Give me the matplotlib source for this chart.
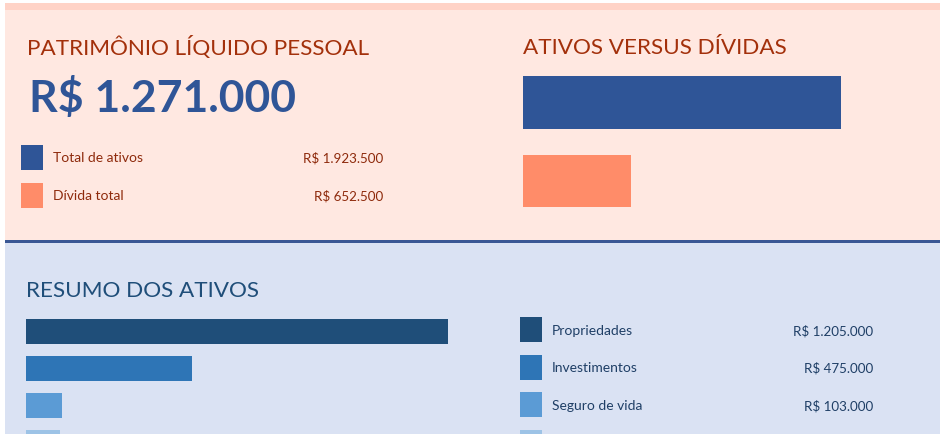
import matplotlib
matplotlib.use("Agg")
import matplotlib.pyplot as plt
from matplotlib.patches import Rectangle

# ---- data ----
net_worth_label = "R$ 1.271.000"
summary_labels = ["Total de ativos", "Dívida total"]
summary_values = [1923500, 652500]
summary_value_text = ["R$ 1.923.500", "R$ 652.500"]

asset_labels = ["Propriedades", "Investimentos", "Seguro de vida", "Outros"]
asset_values = [1205000, 475000, 103000, 97000]
asset_value_text = ["R$ 1.205.000", "R$ 475.000", "R$ 103.000", "R$ 97.000"]

# ---- style ----
W, H = 946, 434
BLUE = "#2F5597"
ORANGE = "#FF8C69"
ASSET_COLORS = ["#1F4E79", "#2E75B6", "#5B9BD5", "#9DC3E6"]
TOP_BG = "#FFE8E1"
TOP_STRIPE = "#FFD3C7"
BOT_BG = "#DAE2F3"
LINE = "#3A5794"
RED_TXT = "#A3300B"
BODY_RED = "#8E2A0C"
NAVY_TXT = "#1F4E79"
BODY_NAVY = "#1F3F66"

TITLE_FONT = ["Lato", "DejaVu Sans"]
BODY_FONT = ["Lato", "DejaVu Sans"]

fig = plt.figure(figsize=(W / 100, H / 100), dpi=100)
fig.patch.set_facecolor("white")

# overlay axes in pixel coordinates (layout only)
bg = fig.add_axes([0, 0, 1, 1])
bg.set_xlim(0, W)
bg.set_ylim(H, 0)
bg.axis("off")

bg.add_patch(Rectangle((5, 3), 935, 7, color=TOP_STRIPE, lw=0))
bg.add_patch(Rectangle((5, 10), 935, 230, color=TOP_BG, lw=0))
bg.add_patch(Rectangle((5, 240), 935, 3, color=LINE, lw=0))
bg.add_patch(Rectangle((5, 243), 935, 191, color=BOT_BG, lw=0))

# titles
bg.text(27, 48, "PATRIMÔNIO LÍQUIDO PESSOAL", color=RED_TXT, fontsize=16.2,
        family=TITLE_FONT, va="center", ha="left")
bg.text(523, 48, "ATIVOS VERSUS DÍVIDAS", color=RED_TXT, fontsize=16.2,
        family=TITLE_FONT, va="center", ha="left")
bg.text(26, 291, "RESUMO DOS ATIVOS", color=NAVY_TXT, fontsize=16.2,
        family=TITLE_FONT, va="center", ha="left")

# big number
bg.text(29, 98, net_worth_label, color=BLUE, fontsize=32, fontweight="bold",
        family=BODY_FONT, va="center", ha="left")

# top legend
top_colors = [BLUE, ORANGE]
for i, (lab, vt) in enumerate(zip(summary_labels, summary_value_text)):
    yc = 158.5 + 38 * i
    bg.add_patch(Rectangle((21, yc - 13.5), 22, 25, color=top_colors[i], lw=0))
    bg.text(53, yc, lab, color=BODY_RED, fontsize=10, family=BODY_FONT,
            va="center", ha="left")
    bg.text(383, yc, vt, color=BODY_RED, fontsize=9.6, family=BODY_FONT,
            va="center", ha="right")

# bottom legend
for i, (lab, vt) in enumerate(zip(asset_labels, asset_value_text)):
    yc = 331 + 37.5 * i
    bg.add_patch(Rectangle((520, yc - 14), 22, 25, color=ASSET_COLORS[i], lw=0))
    if yc + 10 < H:
        bg.text(552, yc, lab, color=BODY_NAVY, fontsize=10, family=BODY_FONT,
                va="center", ha="left")
        bg.text(873, yc, vt, color=BODY_NAVY, fontsize=9.6, family=BODY_FONT,
                va="center", ha="right")

# ---- Ativos versus dívidas bar chart ----
x0, x1 = 523, 841
ytop, ybot = 66, 217
ax1 = fig.add_axes([x0 / W, 1 - ybot / H, (x1 - x0) / W, (ybot - ytop) / H])
ax1.barh([0, 1], summary_values, height=53 / 79, color=top_colors, lw=0)
ax1.set_xlim(0, max(summary_values))
ppu = 78.5
ax1.set_ylim((ybot - 102.5) / ppu, (ytop - 102.5) / ppu)
ax1.axis("off")

# ---- Resumo dos ativos bar chart ----
x0, x1 = 26, 448
ytop, ybot = 312, 434
ax2 = fig.add_axes([x0 / W, 0, (x1 - x0) / W, (ybot - ytop) / H])
ax2.barh(range(len(asset_values)), asset_values, height=25 / 37,
         color=ASSET_COLORS, lw=0)
ax2.set_xlim(0, max(asset_values))
ppu = 37.0
c0 = 331.5
ax2.set_ylim((ybot - c0) / ppu, (ytop - c0) / ppu)
ax2.axis("off")

fig.savefig("out.png", dpi=100, facecolor=fig.get_facecolor())
